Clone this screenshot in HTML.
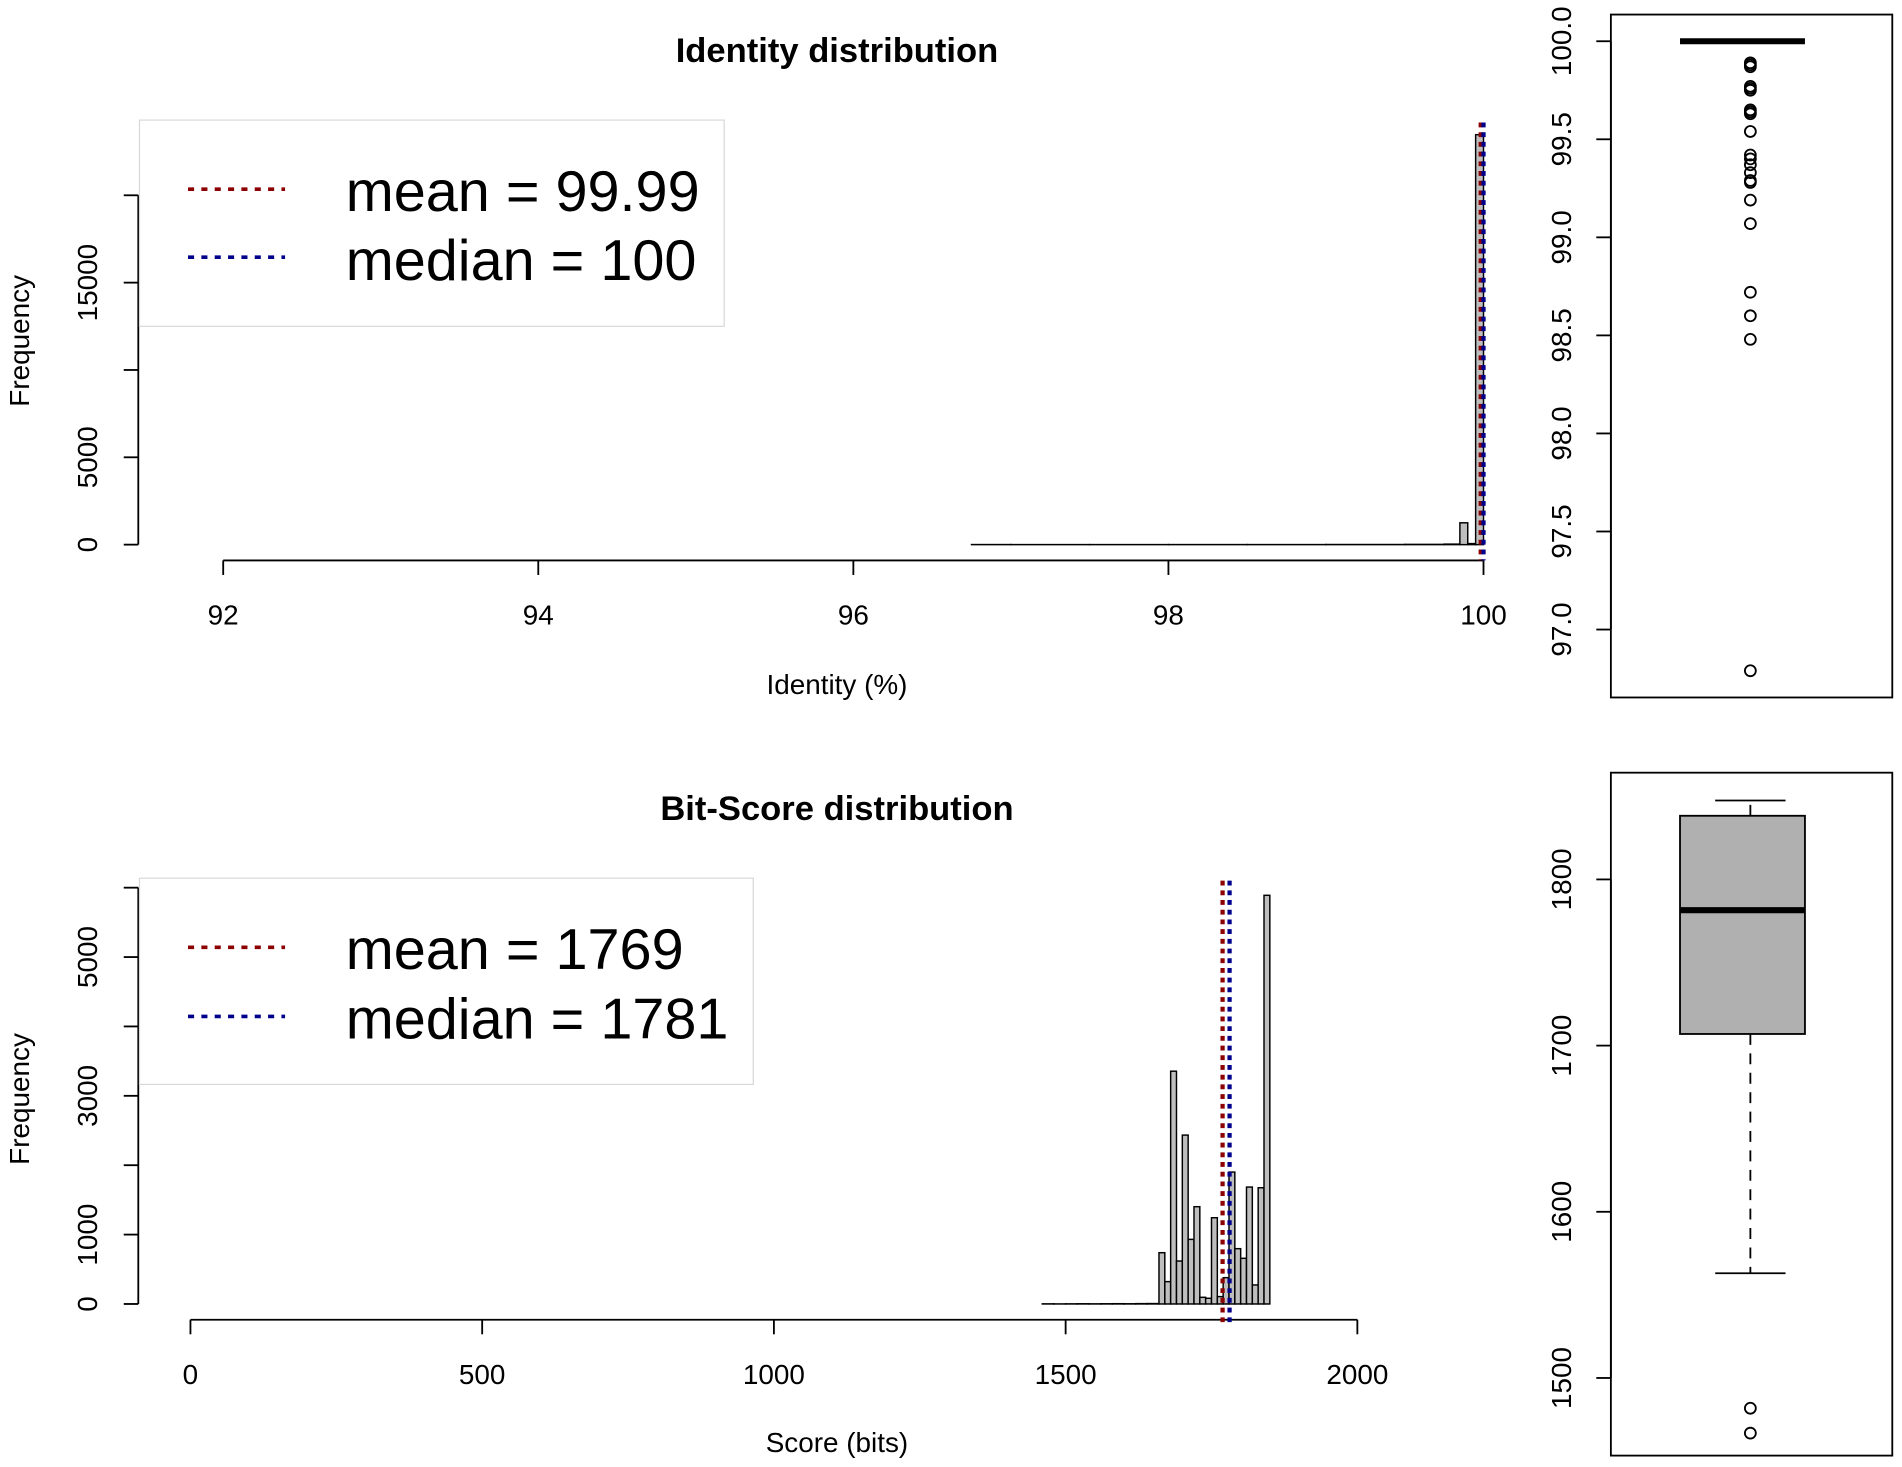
<!DOCTYPE html>
<html><head><meta charset="utf-8"><style>
html,body{margin:0;padding:0;background:#fff}
svg{display:block}
text{font-family:"Liberation Sans",Arial,sans-serif;fill:#000}
</style></head><body>
<svg id="c" width="1902" height="1467" viewBox="0 0 1568 1209.4" xmlns="http://www.w3.org/2000/svg"></svg>
<script>
// ---- Data ----
const idBinStarts = [96.75,97.0,97.5,98.0,98.5,99.0,99.5,99.75,99.85,99.9,99.95];
const idBinWidths = [0.25,0.5,0.5,0.5,0.5,0.5,0.25,0.1,0.05,0.05,0.05];
const idCounts = [5,3,3,4,4,8,15,30,1250,60,23470];
const idXTicks = [92,94,96,98,100];
const idYTicks = [0,5000,10000,15000,20000];
const idYTickLabels = ["0","5000","","15000",""];
const idMean = 99.99, idMedian = 100;
const idOutliers = [99.89,99.87,99.88,99.77,99.75,99.76,99.65,99.64,99.63,99.54,99.42,99.40,99.37,99.33,99.29,99.28,99.19,99.07,98.72,98.60,98.48,96.79];
const idBoxTicks = [97.0,97.5,98.0,98.5,99.0,99.5,100.0];
const idBoxTickLabels = ["97.0","97.5","98.0","98.5","99.0","99.5","100.0"];

const bsBins = [1660,1670,1680,1690,1700,1710,1720,1730,1740,1750,1760,1770,1780,1790,1800,1810,1820,1830,1840];
const bsCounts = [739,322,3355,619,2434,931,1402,96,82,1243,106,379,1901,797,658,1685,274,1675,5890];
const bsLowBins = [1460,1480,1500,1520,1540,1560,1580,1600,1620,1640];
const bsLowCounts = [2,1,2,3,2,3,4,3,5,6];
const bsXTicks = [0,500,1000,1500,2000];
const bsYTicks = [0,1000,2000,3000,4000,5000,6000];
const bsYTickLabels = ["0","1000","","3000","","5000",""];
const bsMean = 1769, bsMedian = 1781;
const bsBox = {lowWhisk:1563, q1:1707, med:1781.5, q3:1838.3, hiWhisk:1847.5};
const bsOutliers = [1481.8,1466.8];
const bsBoxTicks = [1500,1600,1700,1800];

const TICK = 23, AXT = 23, TITLE = 28.5, LEG = 47.5;
const LEGFONT = 'font-family:"Liberation Sans Narrow","Liberation Sans",sans-serif';

// ---- helpers ----
const svg = document.getElementById('c');
const NS = 'http://www.w3.org/2000/svg';
function el(tag, attrs, parent){
  const e = document.createElementNS(NS, tag);
  for (const k in attrs) e.setAttribute(k, attrs[k]);
  (parent||svg).appendChild(e); return e;
}
function txt(s, attrs, parent){ const t = el('text', attrs, parent); t.textContent = s; return t; }
function lin(a,b,c,d){ return v => c + (v-a)*(d-c)/(b-a); }

// ================= TOP HISTOGRAM =================
const tx = lin(92,100,184,1223), ty = lin(0,5000,449,377);
const g1 = el('g',{});


const t1 = txt('Identity distribution',{x:690,y:51,'text-anchor':'middle','font-size':TITLE,'font-weight':'bold'},g1);
 
idBinStarts.forEach((s,i)=>{
  const x0=tx(s), x1=tx(s+idBinWidths[i]), y=ty(idCounts[i]);
  const r = el('rect',{x:x0,y:y,width:x1-x0,height:ty(0)-y,fill:'#bebebe',stroke:'#000','stroke-width':1.2},g1);
   
});
const xa1 = el('g',{},g1);
 
el('line',{x1:tx(idXTicks[0]),x2:tx(idXTicks[idXTicks.length-1]),y1:462,y2:462,stroke:'#000','stroke-width':1.5},xa1);
idXTicks.forEach(v=>{
  el('line',{x1:tx(v),x2:tx(v),y1:462,y2:474,stroke:'#000','stroke-width':1.5},xa1);
  const t=txt(String(v),{x:tx(v),y:515,'text-anchor':'middle','font-size':TICK},xa1);
   
});
const xl1 = txt('Identity (%)',{x:690,y:572,'text-anchor':'middle','font-size':AXT},g1);
 
const ya1 = el('g',{},g1);
 
el('line',{x1:114,x2:114,y1:ty(idYTicks[0]),y2:ty(idYTicks[idYTicks.length-1]),stroke:'#000','stroke-width':1.5},ya1);
idYTicks.forEach((v,i)=>{
  el('line',{x1:102,x2:114,y1:ty(v),y2:ty(v),stroke:'#000','stroke-width':1.5},ya1);
  if(idYTickLabels[i]){
    const t=txt(idYTickLabels[i],{x:0,y:0,'text-anchor':'middle','font-size':TICK,transform:`translate(80,${ty(v)}) rotate(-90)`},ya1);
     
  }
});
const yl1 = txt('Frequency',{x:0,y:0,'text-anchor':'middle','font-size':AXT,transform:'translate(24,281) rotate(-90)'},g1);
 
const ml1 = el('line',{x1:tx(idMean)-1,x2:tx(idMean)-1,y1:101,y2:462,stroke:'#8b0000','stroke-width':3.5,'stroke-dasharray':'4 4'},g1);
 
const md1 = el('line',{x1:tx(idMedian),x2:tx(idMedian),y1:101,y2:462,stroke:'#00008b','stroke-width':3.5,'stroke-dasharray':'4 4'},g1);
 
const lg1 = el('g',{},g1);
 
el('rect',{x:115,y:99,width:482,height:170,fill:'#fff',stroke:'#d8d8d8','stroke-width':1},lg1);
el('line',{x1:155,x2:235,y1:156,y2:156,stroke:'#8b0000','stroke-width':3,'stroke-dasharray':'5 6'},lg1);
el('line',{x1:155,x2:235,y1:212,y2:212,stroke:'#00008b','stroke-width':3,'stroke-dasharray':'5 6'},lg1);
const lt1=txt('mean = '+idMean.toFixed(2),{x:285,y:174,'font-size':LEG,style:LEGFONT},lg1);
 
const lt2=txt('median = '+idMedian,{x:285,y:231,'font-size':LEG,style:LEGFONT},lg1);
 

// ================= TOP BOXPLOT =================
const by1 = lin(100,97,34,519);
const gb1 = el('g',{});
 
el('rect',{x:1328,y:12,width:232,height:563,fill:'none',stroke:'#000','stroke-width':1.5},gb1);
el('line',{x1:1328,x2:1328,y1:by1(97),y2:by1(100),stroke:'#000','stroke-width':1.5},gb1);
idBoxTicks.forEach((v,i)=>{
  el('line',{x1:1316,x2:1328,y1:by1(v),y2:by1(v),stroke:'#000','stroke-width':1.5},gb1);
  const t=txt(idBoxTickLabels[i],{x:0,y:0,'text-anchor':'middle','font-size':TICK,transform:`translate(1295,${by1(v)}) rotate(-90)`},gb1);
   
});
const bm1 = el('line',{x1:1385,x2:1488,y1:by1(idMedian),y2:by1(idMedian),stroke:'#000','stroke-width':5},gb1);
 
idOutliers.forEach(v=>{
  const c=el('circle',{cx:1443,cy:by1(v),r:4.5,fill:'none',stroke:'#000','stroke-width':1.5},gb1);
   
});

// ================= BOTTOM HISTOGRAM =================
const bx = lin(0,2000,157,1119), byh = lin(0,1000,1075,1017.8);
const g2 = el('g',{});
 
const t2 = txt('Bit-Score distribution',{x:690,y:676,'text-anchor':'middle','font-size':TITLE,'font-weight':'bold'},g2);
 
bsLowBins.forEach((s,i)=>{
  const x0=bx(s), x1=bx(s+20), y=byh(bsLowCounts[i]);
  const r=el('rect',{x:x0,y:y,width:x1-x0,height:byh(0)-y,fill:'#bebebe',stroke:'#000','stroke-width':1.2},g2);
   
});
bsBins.forEach((s,i)=>{
  const x0=bx(s), x1=bx(s+10), y=byh(bsCounts[i]);
  const r=el('rect',{x:x0,y:y,width:x1-x0,height:byh(0)-y,fill:'#bebebe',stroke:'#000','stroke-width':1.2},g2);
   
});
const xa2 = el('g',{},g2);
 
el('line',{x1:bx(0),x2:bx(2000),y1:1088,y2:1088,stroke:'#000','stroke-width':1.5},xa2);
bsXTicks.forEach(v=>{
  el('line',{x1:bx(v),x2:bx(v),y1:1088,y2:1100,stroke:'#000','stroke-width':1.5},xa2);
  const t=txt(String(v),{x:bx(v),y:1141,'text-anchor':'middle','font-size':TICK},xa2);
   
});
const xl2 = txt('Score (bits)',{x:690,y:1197,'text-anchor':'middle','font-size':AXT},g2);
 
const ya2 = el('g',{},g2);
 
el('line',{x1:114,x2:114,y1:byh(0),y2:byh(6000),stroke:'#000','stroke-width':1.5},ya2);
bsYTicks.forEach((v,i)=>{
  el('line',{x1:102,x2:114,y1:byh(v),y2:byh(v),stroke:'#000','stroke-width':1.5},ya2);
  if(bsYTickLabels[i]){
    const t=txt(bsYTickLabels[i],{x:0,y:0,'text-anchor':'middle','font-size':TICK,transform:`translate(80,${byh(v)}) rotate(-90)`},ya2);
     
  }
});
const yl2 = txt('Frequency',{x:0,y:0,'text-anchor':'middle','font-size':AXT,transform:'translate(24,906) rotate(-90)'},g2);
 
const ml2 = el('line',{x1:bx(bsMean),x2:bx(bsMean),y1:726,y2:1090,stroke:'#8b0000','stroke-width':3.5,'stroke-dasharray':'4 4'},g2);
 
const md2 = el('line',{x1:bx(bsMedian),x2:bx(bsMedian),y1:726,y2:1090,stroke:'#00008b','stroke-width':3.5,'stroke-dasharray':'4 4'},g2);
 
const lg2 = el('g',{},g2);
 
el('rect',{x:115,y:724,width:506,height:170,fill:'#fff',stroke:'#d8d8d8','stroke-width':1},lg2);
el('line',{x1:155,x2:235,y1:781,y2:781,stroke:'#8b0000','stroke-width':3,'stroke-dasharray':'5 6'},lg2);
el('line',{x1:155,x2:235,y1:838,y2:838,stroke:'#00008b','stroke-width':3,'stroke-dasharray':'5 6'},lg2);
const lt3=txt('mean = '+bsMean,{x:285,y:799,'font-size':LEG,style:LEGFONT},lg2);
 
const lt4=txt('median = '+bsMedian,{x:285,y:856,'font-size':LEG,style:LEGFONT},lg2);
 

// ================= BOTTOM BOXPLOT =================
const by2 = lin(1800,1700,725,862);
const gb2 = el('g',{});
 
el('rect',{x:1328,y:637,width:232,height:563,fill:'none',stroke:'#000','stroke-width':1.5},gb2);
el('line',{x1:1328,x2:1328,y1:by2(1500),y2:by2(1800),stroke:'#000','stroke-width':1.5},gb2);
bsBoxTicks.forEach(v=>{
  el('line',{x1:1316,x2:1328,y1:by2(v),y2:by2(v),stroke:'#000','stroke-width':1.5},gb2);
  const t=txt(String(v),{x:0,y:0,'text-anchor':'middle','font-size':TICK,transform:`translate(1295,${by2(v)}) rotate(-90)`},gb2);
   
});
el('line',{x1:1443,x2:1443,y1:by2(bsBox.q1),y2:by2(bsBox.lowWhisk),stroke:'#000','stroke-width':1.5,'stroke-dasharray':'9 7'},gb2);
el('line',{x1:1443,x2:1443,y1:by2(bsBox.q3),y2:by2(bsBox.hiWhisk),stroke:'#000','stroke-width':1.5,'stroke-dasharray':'9 7'},gb2);
el('line',{x1:1414,x2:1472,y1:by2(bsBox.lowWhisk),y2:by2(bsBox.lowWhisk),stroke:'#000','stroke-width':1.5},gb2);
el('line',{x1:1414,x2:1472,y1:by2(bsBox.hiWhisk),y2:by2(bsBox.hiWhisk),stroke:'#000','stroke-width':1.5},gb2);
const bxr = el('rect',{x:1385,y:by2(bsBox.q3),width:103,height:by2(bsBox.q1)-by2(bsBox.q3),fill:'#b0b0b0',stroke:'#000','stroke-width':1.5},gb2);
 
const bm2 = el('line',{x1:1385,x2:1488,y1:by2(bsBox.med),y2:by2(bsBox.med),stroke:'#000','stroke-width':5},gb2);
 
bsOutliers.forEach(v=>{
  const c=el('circle',{cx:1443,cy:by2(v),r:4.5,fill:'none',stroke:'#000','stroke-width':1.5},gb2);
   
});
</script>
</body></html>
